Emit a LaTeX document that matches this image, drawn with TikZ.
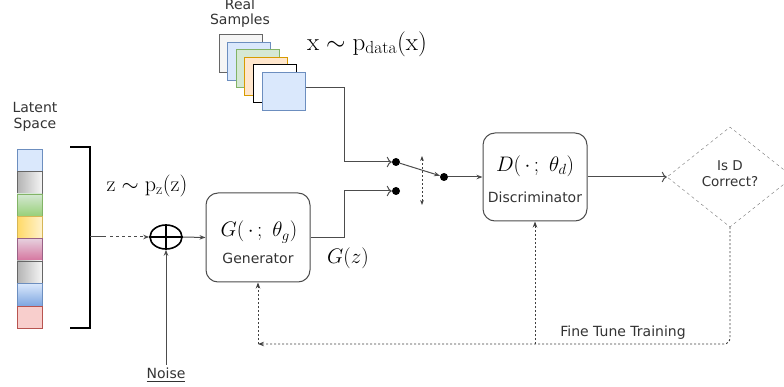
\documentclass[tikz,border=0pt]{standalone}
\usepackage{fix-cm}
\usepackage{amsmath}
\usepackage{fontspec}
\newfontfamily\diafont{DejaVu Sans}
\usetikzlibrary{shapes.geometric, arrows.meta, calc}
\definecolor{pastelblue}{HTML}{DAE8FC}
\definecolor{steelblue}{HTML}{6C8EBF}
\definecolor{skyblue}{HTML}{7EA6E0}
\definecolor{palegray}{HTML}{F5F5F5}
\definecolor{midgray}{HTML}{B3B3B3}
\definecolor{darkgray}{HTML}{666666}
\definecolor{palegreen}{HTML}{D5E8D4}
\definecolor{leafgreen}{HTML}{97D077}
\definecolor{sagegreen}{HTML}{82B366}
\definecolor{paleyellow}{HTML}{FFF2CC}
\definecolor{butter}{HTML}{FFD966}
\definecolor{mustard}{HTML}{D6B656}
\definecolor{palepink}{HTML}{E6D0DE}
\definecolor{rosepink}{HTML}{D5739D}
\definecolor{plum}{HTML}{996185}
\definecolor{palered}{HTML}{F8CECC}
\definecolor{brickred}{HTML}{B85450}
\definecolor{paleorange}{HTML}{FFE6CC}
\definecolor{amber}{HTML}{D79B00}

\begin{document}
\begin{tikzpicture}[x=1pt, y=-1pt,
            bar/.style = {draw, minimum width=25pt, minimum height=22.4pt, inner sep=0pt},
            blueflat/.style = {bar, fill=pastelblue, draw=steelblue},
            grayshade/.style = {bar, left color=midgray, right color=palegray, draw=darkgray},
            greenshade/.style = {bar, top color=palegreen, bottom color=leafgreen, draw=sagegreen},
            yellowshade/.style = {bar, left color=butter, right color=paleyellow, draw=mustard},
            pinkshade/.style = {bar, top color=palepink, bottom color=rosepink, draw=plum},
            blueshade/.style = {bar, top color=pastelblue, bottom color=skyblue, draw=steelblue},
            redflat/.style = {bar, fill=palered, draw=brickred},
            card/.style = {draw, line width=0.8pt, minimum width=43pt, minimum height=38pt, inner sep=0pt},
            block/.style = {draw=black!70, line width=1pt, rounded corners=12pt, minimum width=104pt, minimum height=89pt},
            dot/.style = {circle, fill=black, inner sep=0pt, minimum size=8pt},
            txt/.style = {font=\diafont\fontsize{14}{15.5}\selectfont, text=black!80, align=center},
            bigmath/.style = {font=\fontsize{21}{24}\selectfont},
            conn/.style = {draw=black!70, line width=1pt},
            feedback/.style = {draw=black!75, line width=0.9pt, dash pattern=on 2pt off 2pt},
            ]
            \useasboundingbox (0,0) rectangle (784,387);

            % latent space
            \node[txt] (latent) at (35,117) {Latent\\Space};
            \node[blueflat]    (z1) at (29.5,160.2) {};
            \node[grayshade]   (z2) at (29.5,182.6) {};
            \node[greenshade]  (z3) at (29.5,205.0) {};
            \node[yellowshade] (z4) at (29.5,227.4) {};
            \node[pinkshade]   (z5) at (29.5,249.8) {};
            \node[grayshade]   (z6) at (29.5,272.2) {};
            \node[blueshade]   (z7) at (29.5,294.6) {};
            \node[redflat]     (z8) at (29.5,317.0) {};

            \draw[line width=1.6pt] (70,147) -- (90,147) -- (90,328) -- (70,328);
            \coordinate (tick) at (90,237);
            \node[font=\fontsize{22}{26}\selectfont] (zdist) at (147,186) {$\mathrm{z} \sim \mathrm{p}_{\mathrm{z}}(\mathrm{z})$};

            % noise and sum
            \node[ellipse, draw, line width=1.6pt, minimum width=32pt, minimum height=24pt, inner sep=0pt] (plus) at (166,237) {};
            \draw[line width=1.6pt] (plus.north) -- (plus.south) (plus.west) -- (plus.east);
            \node[txt] (noise) at (166,375) {\underline{Noise}};

            % real samples
            \node[txt] (real) at (240,13) {Real\\Samples};
            \node[card, fill=palegray, draw=darkgray]    (card1) at (240.5,53) {};
            \node[card, fill=pastelblue, draw=steelblue] (card2) at (249,61) {};
            \node[card, fill=palegreen, draw=sagegreen]  (card3) at (257.5,68.5) {};
            \node[card, fill=paleorange, draw=amber]     (card4) at (266,76) {};
            \node[card, fill=white, draw=black]          (card5) at (275,83.5) {};
            \node[card, fill=pastelblue, draw=steelblue] (card6) at (284,91) {};
            \node[font=\fontsize{25}{28}\selectfont] (xdist) at (367,44) {$\mathrm{x} \sim \mathrm{p}_{\mathrm{data}}(\mathrm{x})$};

            % generator and discriminator
            \node[block] (gen) at (258,237.5) {};
            \node[bigmath] (genmath) at (259,232) {$G(\,\cdot\,;\ \theta_g)$};
            \node[txt] (gentext) at (258,258) {Generator};
            \node[bigmath] (gz) at (348,258) {$G(z)$};

            \node[block, minimum height=88pt] (disc) at (535,177) {};
            \node[bigmath] (discmath) at (535,166) {$D(\,\cdot\,;\ \theta_d)$};
            \node[txt] (disctext) at (535,197) {Discriminator};

            \node[diamond, draw=black!55, dashed, minimum width=126pt, minimum height=100pt, inner sep=0pt] (check) at (730,177) {};
            \node[txt, font=\diafont\fontsize{13.5}{16}\selectfont] (checktext) at (730,174) {Is D\\Correct?};

            % switch
            \node[dot] (dot1) at (396,162) {};
            \node[dot] (dot2) at (396,191) {};
            \node[dot] (dot3) at (444,177) {};
            \coordinate (swtop) at (422,156);
            \coordinate (swbot) at (422,205);

            % feedback corners
            \coordinate (fbright) at (730,344);
            \coordinate (fbleft) at (258,344);
            \coordinate (fbdisc) at (535,344);
            \node[txt] (finetune) at (623,333) {Fine Tune Training};

            \draw[conn] (tick) -- ++(16,0);
            \draw[conn, dashed, -{Stealth[length=6pt]}] ($(tick)+(20,0)$) -- (plus.west);
            \draw[conn, -{Stealth[length=6pt]}] (noise.north) -- (plus.south);
            \draw[conn, -{Stealth[length=6pt]}] (plus.east) -- (gen.west);
            \draw[conn, -{To[length=5pt]}] ([yshift=3pt]card6.east) -- ++(39,0) |- (dot1);
            \draw[conn, -{To[length=5pt]}] (gen.east) -- ++(34,0) |- (dot2);
            \draw[conn, -{Stealth[length=6pt]}] (dot1) -- (dot3);
            \draw[conn, -{Stealth[length=6pt]}] (dot3) -- (disc.west);
            \draw[conn, -{To[length=5pt]}] (disc.east) -- (check.west);
            \draw[feedback, {Stealth[length=5pt]}-{Stealth[length=5pt]}] (swtop) -- (swbot);

            \draw[feedback, rounded corners=6pt, -{Stealth[length=6pt]}] (check.south) -- (fbright) -- (fbleft);
            \draw[feedback, -{Stealth[length=6pt]}] (fbleft) -- (gen.south);
            \draw[feedback, -{Stealth[length=6pt]}] (fbdisc) -- (disc.south);

        \end{tikzpicture}
\end{document}
